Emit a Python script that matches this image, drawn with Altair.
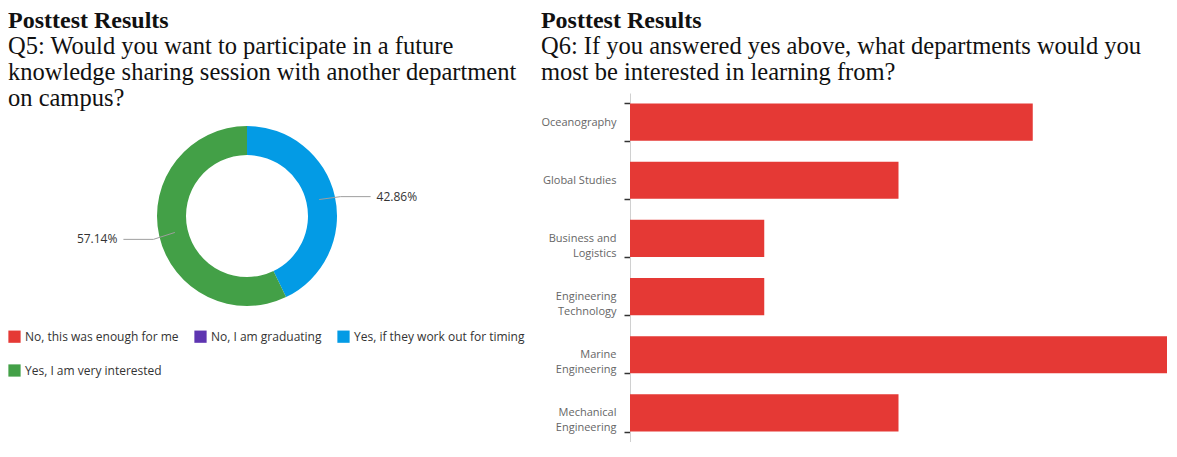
import altair as alt
import pandas as pd

# ---------------- data ----------------
q5_answers = ["No, this was enough for me", "No, I am graduating",
              "Yes, if they work out for timing", "Yes, I am very interested"]
q5_counts = [0, 0, 3, 4]
q5_colors = ["#e53935", "#5e35b1", "#039be5", "#43a047"]

q6_departments = ["Oceanography", "Global Studies", "Business and|Logistics",
                  "Engineering|Technology", "Marine|Engineering", "Mechanical|Engineering"]
q6_counts = [3, 2, 1, 1, 4, 2]

q5_title = "Posttest Results"
q5_subtitle = ["Q5: Would you want to participate in a future",
               "knowledge sharing session with another department",
               "on campus?"]
q6_title = "Posttest Results"
q6_subtitle = ["Q6: If you answered yes above, what departments would you",
               "most be interested in learning from?"]

# ---------------- left: donut ----------------
df5 = pd.DataFrame({"answer": q5_answers, "count": q5_counts,
                    "idx": list(range(len(q5_answers)))})
CX, CY = 239, 123
R_IN, R_OUT = 61, 90

base5 = alt.Chart(df5)

arcs = base5.mark_arc(innerRadius=R_IN, outerRadius=R_OUT).encode(
    theta=alt.Theta("count:Q", stack=True),
    color=alt.Color("answer:N",
                    scale=alt.Scale(domain=q5_answers, range=q5_colors),
                    legend=alt.Legend(title=None, orient="bottom", direction="horizontal",
                                      columns=3, symbolType="square", symbolSize=150,
                                      symbolStrokeWidth=0, labelFont="Open Sans",
                                      labelFontSize=12, labelColor="#333",
                                      columnPadding=15, rowPadding=21, offset=12,
                                      labelLimit=300)),
    order=alt.Order("idx:Q"),
    x=alt.value(CX), y=alt.value(CY),
)

lab = base5.transform_joinaggregate(
    total="sum(count)"
).transform_window(
    cum="sum(count)", sort=[alt.SortField("idx")]
).transform_filter(
    "datum.count > 0"
).transform_calculate(
    mid="(datum.cum - datum.count/2)/datum.total*2*PI",
    pct="format(datum.count/datum.total*100, '.2f') + '%'",
).transform_calculate(
    side="sin(datum.mid) >= 0 ? 1 : -1",
    x0=f"{CX} + 74*sin(datum.mid)", y0=f"{CY} - 74*cos(datum.mid)",
    x1=f"{CX} + 96*sin(datum.mid)", y1=f"{CY} - 96*cos(datum.mid) + 2",
).transform_calculate(
    x2="datum.x1 + datum.side*30",
).transform_calculate(
    xt="datum.x2 + datum.side*6",
)

lead1 = lab.mark_rule(color="#9e9e9e", strokeWidth=1).encode(
    x=alt.X("x0:Q", scale=None), y=alt.Y("y0:Q", scale=None),
    x2="x1:Q", y2="y1:Q")
lead2 = lab.mark_rule(color="#9e9e9e", strokeWidth=1).encode(
    x=alt.X("x1:Q", scale=None), y=alt.Y("y1:Q", scale=None),
    x2="x2:Q", y2="y1:Q")
txt_r = lab.transform_filter("datum.side > 0").mark_text(
    align="left", baseline="middle", font="Open Sans", fontSize=12, color="#333"
).encode(x=alt.X("xt:Q", scale=None), y=alt.Y("y1:Q", scale=None), text="pct:N")
txt_l = lab.transform_filter("datum.side < 0").mark_text(
    align="right", baseline="middle", font="Open Sans", fontSize=12, color="#333"
).encode(x=alt.X("xt:Q", scale=None), y=alt.Y("y1:Q", scale=None), text="pct:N")

left = alt.layer(arcs, lead1, lead2, txt_r, txt_l).properties(
    width=520, height=225,
    title=alt.TitleParams(text=q5_title, subtitle=q5_subtitle, anchor="start",
                          font="Liberation Serif", fontSize=24, fontWeight="bold",
                          color="#111", subtitleFont="Liberation Serif",
                          subtitleFontSize=24.5, subtitleColor="#111",
                          subtitleLineHeight=26, subtitlePadding=2, offset=-17)
)

# ---------------- right: bars ----------------
df6 = pd.DataFrame({"dept": q6_departments, "count": q6_counts})

right = alt.Chart(df6).mark_bar(color="#e53935").encode(
    y=alt.Y("dept:N", sort=q6_departments,
            scale=alt.Scale(paddingInner=0.36, paddingOuter=0.18),
            axis=alt.Axis(title=None, labelExpr="split(datum.label, '|')",
                          tickBand="extent", tickSize=6, tickColor="#333",
                          tickWidth=1.5, domainColor="#d0d0d0", labelPadding=8,
                          labelFont="Open Sans", labelFontSize=11,
                          labelColor="#666", labelLineHeight=15, grid=False)),
    x=alt.X("count:Q", scale=alt.Scale(domain=[0, 4], nice=False), axis=None),
).properties(
    width=537, height=349,
    title=alt.TitleParams(text=q6_title, subtitle=q6_subtitle, anchor="start",
                          font="Liberation Serif", fontSize=24, fontWeight="bold",
                          color="#111", subtitleFont="Liberation Serif",
                          subtitleFontSize=24.5, subtitleColor="#111",
                          subtitleLineHeight=26, subtitlePadding=2, offset=3)
)

chart = alt.hconcat(left, right, spacing=12).resolve_scale(
    color="independent"
).resolve_legend(
    color="independent"
).properties(
    padding=0, background="white"
).configure_view(stroke=None)

chart.save("out.html", embed_options={"renderer": "svg", "actions": False})
